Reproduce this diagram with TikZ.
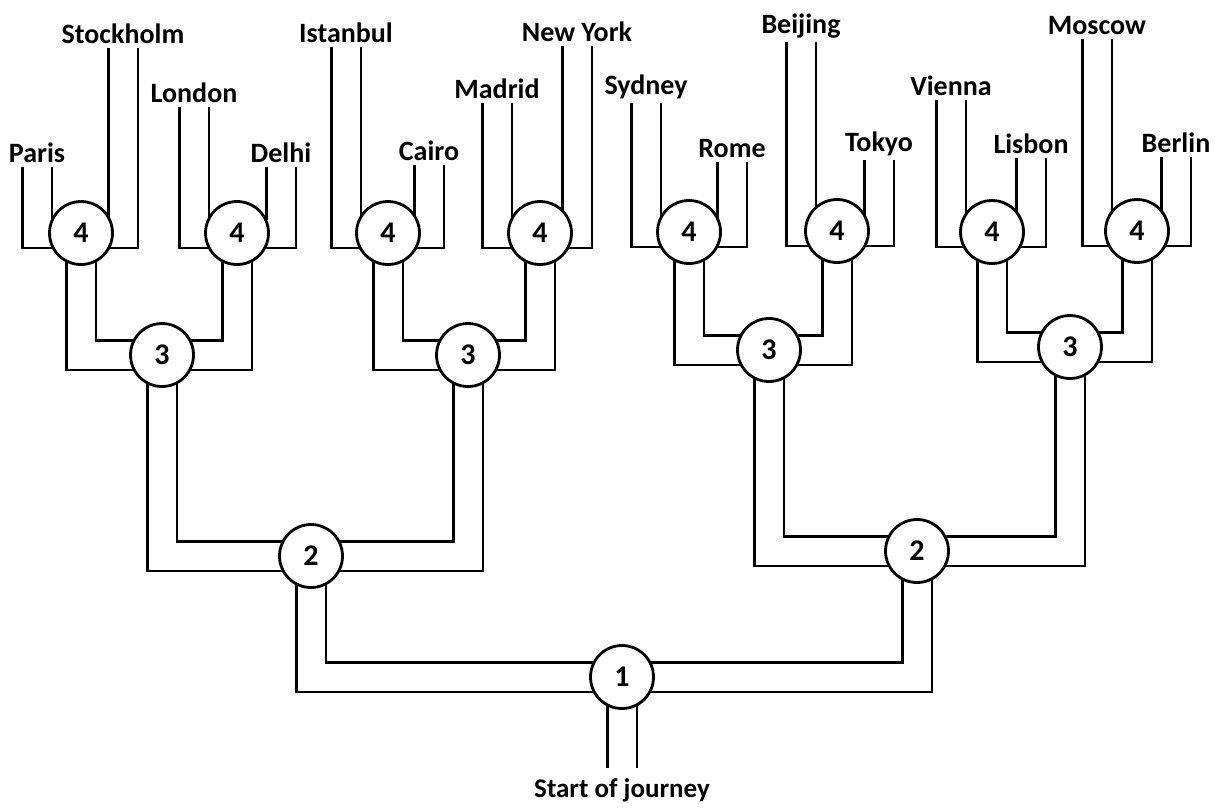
\documentclass[tikz,border=0pt]{standalone}
\usepackage{fontspec}
\setmainfont{Carlito}
\usetikzlibrary{positioning, backgrounds}
\tikzset{
  junction/.style={circle, draw=black, fill=white, line width=2.8pt,
                   minimum size=63pt, inner sep=0pt,
                   font=\fontsize{30}{32}\selectfont\bfseries},
  road/.style={draw=black, line width=2.8pt, double=white,
               double distance=27pt, line join=miter, line cap=butt},
  citylabel/.style={inner sep=1pt, font=\fontsize{28}{30}\selectfont\bfseries}
}

\begin{document}
\begin{tikzpicture}[x=1pt, y=-1pt]
  \useasboundingbox (0,0) rectangle (1219,809);

  % Junctions
  \node[junction] (j1) at (622,677) {1};
  \node[junction] (j2a) at (311,556) {2};
  \node[junction] (j2b) at (917,551) {2};
  \node[junction] (j3a) at (162,355) {3};
  \node[junction] (j3b) at (468,355) {3};
  \node[junction] (j3c) at (769,350) {3};
  \node[junction] (j3d) at (1070,347) {3};
  \node[junction] (j4a) at (81,233) {4};
  \node[junction] (j4b) at (237,233) {4};
  \node[junction] (j4c) at (388,233) {4};
  \node[junction] (j4d) at (540,233) {4};
  \node[junction] (j4e) at (689,232) {4};
  \node[junction] (j4f) at (837,231) {4};
  \node[junction] (j4g) at (992,232) {4};
  \node[junction] (j4h) at (1137,231) {4};

  % Road ends
  \coordinate (start) at (622,768);
  \coordinate (paris) at (37,167);
  \coordinate (stockholm) at (123,48);
  \coordinate (london) at (194,107);
  \coordinate (delhi) at (281,167);
  \coordinate (istanbul) at (346,47);
  \coordinate (cairo) at (429,165);
  \coordinate (madrid) at (497,103);
  \coordinate (newyork) at (577,46);
  \coordinate (sydney) at (646,103);
  \coordinate (rome) at (732,162);
  \coordinate (beijing) at (801,42);
  \coordinate (tokyo) at (879,160);
  \coordinate (vienna) at (951,100);
  \coordinate (lisbon) at (1031,158);
  \coordinate (moscow) at (1097,39);
  \coordinate (berlin) at (1176,157);

  % City labels
  \node[citylabel, below=9pt of start, font=\fontsize{27}{29}\selectfont\bfseries] (lstart) {Start of journey};
  \node[citylabel, above=3pt of paris] (lparis) {Paris};
  \node[citylabel, above=3pt of stockholm] (lstockholm) {Stockholm};
  \node[citylabel, above=3pt of london] (llondon) {London};
  \node[citylabel, above=3pt of delhi] (ldelhi) {Delhi};
  \node[citylabel, above=3pt of istanbul] (listanbul) {Istanbul};
  \node[citylabel, above=3pt of cairo] (lcairo) {Cairo};
  \node[citylabel, above=3pt of madrid] (lmadrid) {Madrid};
  \node[citylabel, above=3pt of newyork] (lnewyork) {New York};
  \node[citylabel, above=3pt of sydney] (lsydney) {Sydney};
  \node[citylabel, above=3pt of rome] (lrome) {Rome};
  \node[citylabel, above=3pt of beijing] (lbeijing) {Beijing};
  \node[citylabel, above=3pt of tokyo] (ltokyo) {Tokyo};
  \node[citylabel, above=3pt of vienna] (lvienna) {Vienna};
  \node[citylabel, above=3pt of lisbon] (llisbon) {Lisbon};
  \node[citylabel, above=3pt of moscow] (lmoscow) {Moscow};
  \node[citylabel, above=3pt of berlin] (lberlin) {Berlin};

  % Roads
  \begin{scope}[on background layer]
    \draw[road] (j1.center) -- (start);
    \draw[road] (j1.center) -| (j2a.center);
    \draw[road] (j1.center) -| (j2b.center);
    \draw[road] (j2a.center) -| (j3a.center);
    \draw[road] (j2a.center) -| (j3b.center);
    \draw[road] (j2b.center) -| (j3c.center);
    \draw[road] (j2b.center) -| (j3d.center);
    \draw[road] (j3a.center) -| (j4a.center);
    \draw[road] (j3a.center) -| (j4b.center);
    \draw[road] (j3b.center) -| (j4c.center);
    \draw[road] (j3b.center) -| (j4d.center);
    \draw[road] (j3c.center) -| (j4e.center);
    \draw[road] (j3c.center) -| (j4f.center);
    \draw[road] (j3d.center) -| (j4g.center);
    \draw[road] (j3d.center) -| (j4h.center);
    \draw[road] (j4a.center) -| (paris);
    \draw[road] (j4a.center) -| (stockholm);
    \draw[road] (j4b.center) -| (london);
    \draw[road] (j4b.center) -| (delhi);
    \draw[road] (j4c.center) -| (istanbul);
    \draw[road] (j4c.center) -| (cairo);
    \draw[road] (j4d.center) -| (madrid);
    \draw[road] (j4d.center) -| (newyork);
    \draw[road] (j4e.center) -| (sydney);
    \draw[road] (j4e.center) -| (rome);
    \draw[road] (j4f.center) -| (beijing);
    \draw[road] (j4f.center) -| (tokyo);
    \draw[road] (j4g.center) -| (vienna);
    \draw[road] (j4g.center) -| (lisbon);
    \draw[road] (j4h.center) -| (moscow);
    \draw[road] (j4h.center) -| (berlin);
  \end{scope}

\end{tikzpicture}
\end{document}
